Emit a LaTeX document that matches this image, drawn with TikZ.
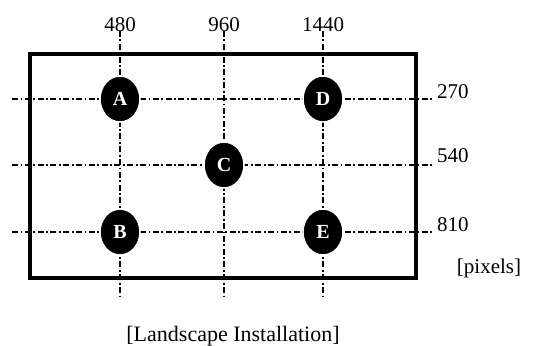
\documentclass[tikz,border=0pt]{standalone}
\usepackage{fontspec}
\setmainfont{Liberation Serif}
\usetikzlibrary{positioning,shapes.geometric,backgrounds}

\begin{document}
\begin{tikzpicture}[x=1pt,y=-1pt,node distance=100pt,on grid,
  cam/.style={ellipse,fill=black,draw=white,line width=1.5pt,minimum width=40pt,
    minimum height=46pt,inner sep=0pt,text=white,font=\fontsize{20}{22}\selectfont\bfseries},
  lbl/.style={inner sep=0pt,font=\fontsize{21}{24}\selectfont}]
\useasboundingbox (0,0) rectangle (537,345);
  \node[cam]          (A) at (120,99)                    {A};
  \node[cam]          (D) [right=203pt of A]             {D};
  \node[cam]          (C) [below right=66pt and 104pt of A] {C};
  \node[cam]          (B) [below=133pt of A]             {B};
  \node[cam]          (E) [below=133pt of D]             {E};
  \node[lbl,anchor=base]      (x480) at (120,31) {480};
  \node[lbl,anchor=base]      (x960) at (224,31) {960};
  \node[lbl,anchor=base]      (x1440) at (323,31) {1440};
  \node[lbl,anchor=base west] (y270) at (437,98) {270};
  \node[lbl,anchor=base west] (y540) at (437,162) {540};
  \node[lbl,anchor=base west] (y810) at (437,231) {810};
  \node[lbl,anchor=base]      (unit) at (489,273) {[pixels]};
  \node[lbl,anchor=base,font=\fontsize{22}{24}\selectfont] (title) at (233,341) {[Landscape Installation]};
\tikzset{gridline/.style={line width=2.2pt,dash pattern=on 6pt off 2.5pt on 1.8pt off 2.5pt}}
\tikzset{frame/.style={line width=4pt,line join=miter}}
\begin{scope}[on background layer]
  \coordinate (b480) at (120,297);
  \coordinate (b960) at (224,297);
  \coordinate (b1440) at (323,297);
  \coordinate (l270) at (12,99);
  \coordinate (l540) at (12,165);
  \coordinate (l810) at (12,232);
  \draw[gridline] (x480.base) -- (b480);
  \draw[gridline] (x960.base) -- (b960);
  \draw[gridline] (x1440.base) -- (b1440);
  \draw[gridline,shorten >=4pt] (l270) -- (l270 -| y270.west);
  \draw[gridline,shorten >=4pt] (l540) -- (l540 -| y540.west);
  \draw[gridline,shorten >=4pt] (l810) -- (l810 -| y810.west);
\end{scope}
  \draw[frame] (30,54) rectangle (416,278);
\end{tikzpicture}
\end{document}
